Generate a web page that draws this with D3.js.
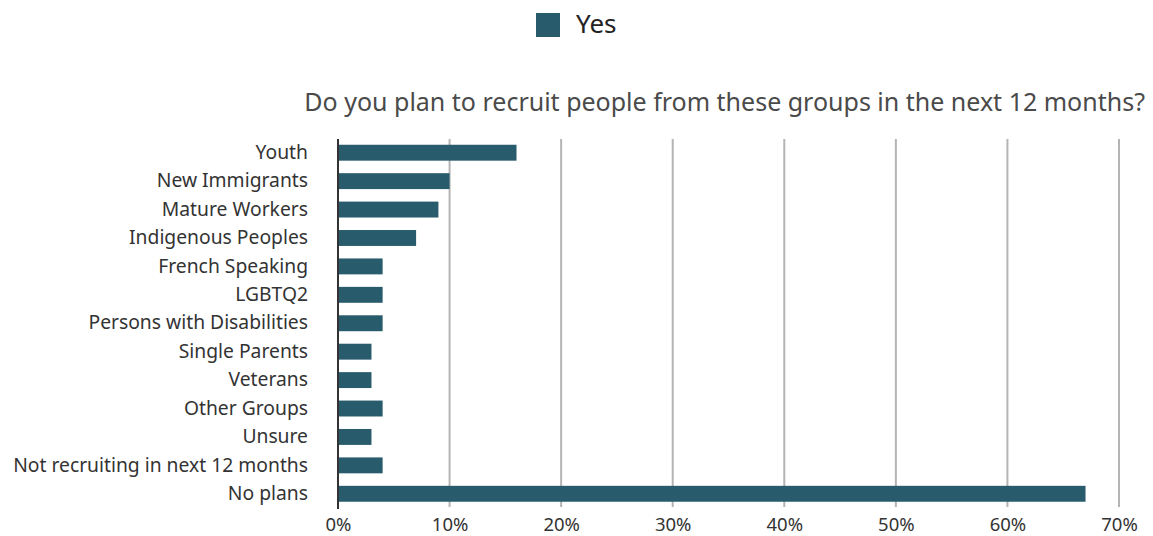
<!DOCTYPE html>
<html>
<head>
<meta charset="utf-8">
<script src="https://cdn.jsdelivr.net/npm/d3@7"></script>
<style>
  html, body { margin: 0; padding: 0; background: #ffffff; }
  svg { display: block; font-family: "Noto Sans", "DejaVu Sans", sans-serif; }
</style>
</head>
<body>
<svg id="chart" width="1153" height="536"></svg>
<script>
// Survey groups, top to bottom
const categories = [
  "Youth",
  "New Immigrants",
  "Mature Workers",
  "Indigenous Peoples",
  "French Speaking",
  "LGBTQ2",
  "Persons with Disabilities",
  "Single Parents",
  "Veterans",
  "Other Groups",
  "Unsure",
  "Not recruiting in next 12 months",
  "No plans"
];
// Share of respondents answering "Yes" (%)
const yesValues = [16, 10, 9, 7, 4, 4, 4, 3, 3, 4, 3, 4, 67];
const tickValues = [0, 10, 20, 30, 40, 50, 60, 70];
const seriesName = "Yes";
const chartTitle = "Do you plan to recruit people from these groups in the next 12 months?";

const barColor = "#285b6b";
const svg = d3.select("#chart");

const x = d3.scaleLinear().domain([0, 70]).range([338, 1119]);
const y = d3.scaleBand()
  .domain(categories)
  .range([138.5, 508])
  .paddingInner(0.44)
  .paddingOuter(0.22);

// Vertical gridlines
svg.append("g")
  .selectAll("line")
  .data(tickValues.filter(d => d > 0))
  .join("line")
  .attr("x1", d => x(d)).attr("x2", d => x(d))
  .attr("y1", 139).attr("y2", 507)
  .attr("stroke", "#b4b4b4")
  .attr("stroke-width", 2);

// Bars
svg.append("g")
  .selectAll("rect")
  .data(categories.map((c, i) => ({ c, v: yesValues[i] })))
  .join("rect")
  .attr("x", x(0))
  .attr("y", d => y(d.c))
  .attr("width", d => x(d.v) - x(0))
  .attr("height", y.bandwidth())
  .attr("fill", barColor);

// Baseline
svg.append("line")
  .attr("x1", x(0)).attr("x2", x(0))
  .attr("y1", 139).attr("y2", 509)
  .attr("stroke", "#333333")
  .attr("stroke-width", 2);

// Category labels
const yAxis = d3.axisLeft(y).tickSize(0).tickPadding(0);
const gy = svg.append("g")
  .attr("transform", "translate(308,0)")
  .call(yAxis);
gy.select(".domain").remove();
gy.selectAll("text")
  .attr("font-size", 19.3)
  .attr("fill", "#333333")
  .attr("font-family", "'Noto Sans', 'DejaVu Sans', sans-serif");

// Percentage tick labels
const xAxis = d3.axisBottom(x).tickValues(tickValues).tickFormat(d => d + "%").tickSize(0).tickPadding(0);
const gx = svg.append("g")
  .attr("transform", "translate(0,531)")
  .call(xAxis);
gx.select(".domain").remove();
gx.selectAll("text")
  .attr("font-size", 18.5)
  .attr("fill", "#333333")
  .attr("dy", 0)
  .attr("font-family", "'Noto Sans', 'DejaVu Sans', sans-serif");

// Title
svg.append("text")
  .attr("x", 1145)
  .attr("y", 111)
  .attr("text-anchor", "end")
  .attr("font-size", 25)
  .attr("fill", "#4a4a4a")
  .text(chartTitle);

// Legend
const legend = svg.append("g");
legend.append("rect")
  .attr("x", 536).attr("y", 13)
  .attr("width", 24).attr("height", 24)
  .attr("fill", barColor);
legend.append("text")
  .attr("x", 576).attr("y", 33)
  .attr("font-size", 26)
  .attr("fill", "#222222")
  .text(seriesName);
</script>
</body>
</html>
